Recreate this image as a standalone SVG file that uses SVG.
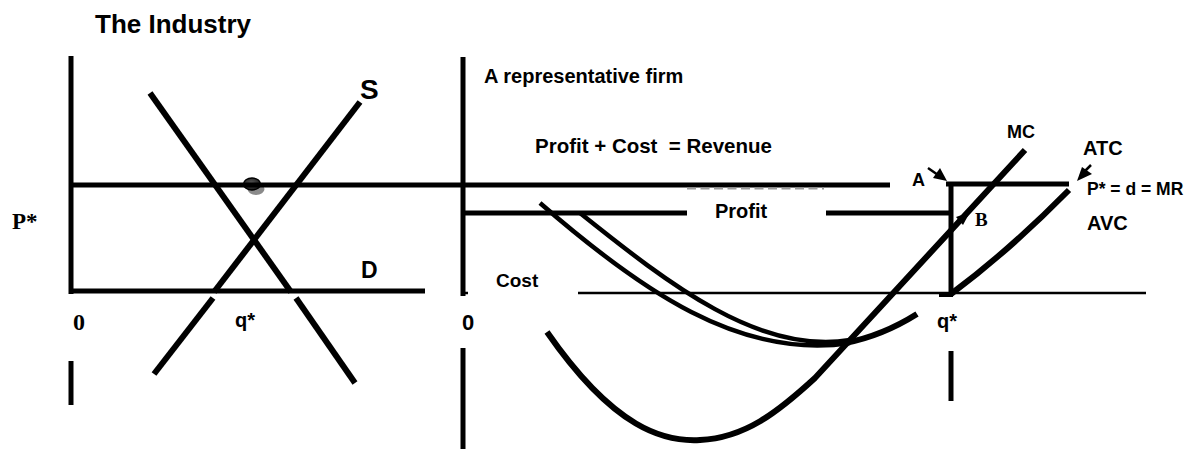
<svg xmlns="http://www.w3.org/2000/svg" width="1192" height="449" viewBox="0 0 1192 449">
  <defs>
    <radialGradient id="dotFill" cx="0.45" cy="0.4" r="0.6">
      <stop offset="0" stop-color="#555"/>
      <stop offset="1" stop-color="#1a1a1a"/>
    </radialGradient>
  </defs>
  <style>
    .ln { stroke: #000; fill: none; stroke-width: 5; }
    .thick { stroke: #000; fill: none; stroke-width: 6; }
    .thin { stroke: #000; fill: none; stroke-width: 2.5; }
    .cv { stroke: #000; fill: none; stroke-width: 4.5; }
    .sans { font-family: "Liberation Sans", Arial, sans-serif; font-weight: bold; fill: #000; }
    .serif { font-family: "Liberation Serif", "Times New Roman", serif; font-weight: bold; fill: #000; }
    .head { fill: #000; }
  </style>

  <rect width="1192" height="449" fill="#fff"/>

  <!-- Left panel: market supply and demand -->
  <g id="industry">
    <text class="sans" x="95" y="33" font-size="26">The Industry</text>
    <!-- axes -->
    <line class="ln" x1="71" y1="56" x2="71" y2="294"/>
    <line class="ln" x1="71" y1="361" x2="71" y2="405"/>
    <line class="ln" x1="69" y1="291" x2="425" y2="291"/>
    <!-- demand -->
    <line class="thick" x1="150" y1="93" x2="291" y2="292"/>
    <line class="thick" x1="296" y1="298" x2="355" y2="383"/>
    <!-- supply -->
    <line class="thick" x1="360" y1="102" x2="214" y2="292"/>
    <line class="thick" x1="213" y1="298" x2="154" y2="374"/>
    <!-- equilibrium marker -->
    <ellipse cx="256" cy="189" rx="8.5" ry="6" fill="#8a8a8a"/>
    <ellipse cx="252" cy="184" rx="8.5" ry="6" fill="url(#dotFill)" stroke="#000" stroke-width="1.5"/>
    <text class="sans" x="360" y="99" font-size="28">S</text>
    <text class="sans" x="361" y="278" font-size="23">D</text>
    <text class="serif" x="12" y="229" font-size="23">P*</text>
    <text class="serif" x="73" y="330" font-size="24">0</text>
    <text class="sans" x="235" y="327" font-size="20">q*</text>
  </g>

  <!-- Price line shared by both panels -->
  <g id="price-line">
    <line class="ln" x1="69" y1="185" x2="890" y2="185"/>
    <line stroke="#9a9a9a" stroke-width="1.8" stroke-dasharray="9 4.5" x1="687" y1="188.5" x2="824" y2="188.5"/>
  </g>

  <!-- Right panel: representative firm -->
  <g id="firm">
    <text class="sans" x="484" y="83" font-size="20">A representative firm</text>
    <text class="sans" x="535" y="153" font-size="20.5" xml:space="preserve">Profit + Cost  = Revenue</text>
    <!-- axes -->
    <line class="ln" x1="463" y1="57" x2="463" y2="296"/>
    <line class="ln" x1="463" y1="348" x2="463" y2="449"/>
    <line class="thin" x1="461" y1="293" x2="468" y2="293"/>
    <line class="thin" x1="578" y1="293" x2="1146" y2="293"/>
    <!-- profit line -->
    <line class="ln" x1="463" y1="213" x2="687" y2="213"/>
    <line class="ln" x1="826" y1="213" x2="951" y2="213"/>
    <text class="sans" x="715" y="218" font-size="20">Profit</text>
    <text class="sans" x="496" y="287" font-size="19">Cost</text>
    <text class="sans" x="462" y="330" font-size="22">0</text>
    <!-- revenue box -->
    <line class="ln" x1="946" y1="184" x2="1069" y2="184"/>
    <line class="ln" x1="951" y1="182" x2="951" y2="295"/>
    <line stroke="#000" stroke-width="4" x1="939" y1="295" x2="953" y2="295"/>
    <line class="ln" x1="951" y1="351" x2="951" y2="401"/>
    <text class="sans" x="937" y="328" font-size="20">q*</text>
  </g>

  <!-- Cost curves -->
  <g id="curves">
    <path id="mc" class="thick" d="M547,332 C615,430 665,442 700,440 C745,438 778,412 815,378 L1025,150"/>
    <path id="atc-left" class="cv" d="M540,203 C640,290 740,360 850,343"/>
    <path id="avc-left" class="cv" d="M580,213 C670,285 760,355 850,340"/>
    <path class="thick" stroke-width="7" d="M845,343 Q882,336 917,314"/>
    <path class="thick" stroke-width="7" d="M951,294 Q1010,250 1069,190"/>
  </g>

  <!-- Labels and pointers -->
  <g id="labels">
    <text class="sans" x="1007" y="138" font-size="18">MC</text>
    <text class="sans" x="1083" y="155" font-size="20">ATC</text>
    <text class="sans" x="1087" y="195" font-size="17.5">P* = d = MR</text>
    <text class="sans" x="1087" y="230" font-size="20">AVC</text>
    <text class="sans" x="912" y="186" font-size="18">A</text>
    <text class="serif" x="975" y="226" font-size="19">B</text>
    <line stroke="#000" stroke-width="2.5" x1="928" y1="168" x2="938" y2="175"/>
    <polygon class="head" points="947,181 933,178 940,168"/>
    <line stroke="#000" stroke-width="2.5" x1="1091" y1="165" x2="1084" y2="172"/>
    <polygon class="head" points="1077,181 1082,167 1092,174"/>
    <polygon class="head" points="970,212 956,217 963,225"/>
  </g>
</svg>
